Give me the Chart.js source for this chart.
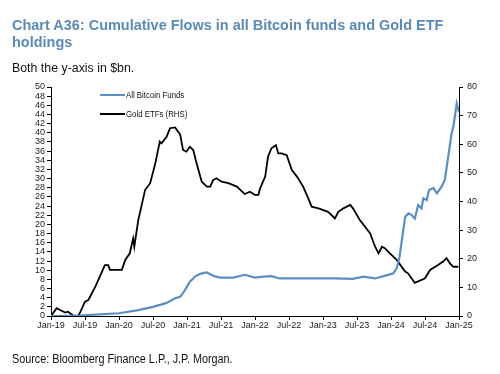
<!DOCTYPE html>
<html>
<head>
<meta charset="utf-8">
<script src="https://cdn.jsdelivr.net/npm/chart.js@4.4.1/dist/chart.umd.min.js"></script>
<style>
  html, body { margin: 0; padding: 0; background: #fff; }
  #wrap { position: relative; width: 500px; height: 374px; overflow: hidden; font-family: "Liberation Sans", Arial, sans-serif; }
  #chart-box { position: absolute; left: 0; top: 0; width: 500px; height: 374px; }
  .txt { position: absolute; white-space: nowrap; transform-origin: 0 0; }
  #title { left: 12px; top: 16px; font-size: 15px; line-height: 17px; font-weight: bold; color: #5b8ab5; transform: scaleX(0.965); }
  #subtitle { left: 12px; top: 61px; font-size: 12px; line-height: 14px; color: #111; transform: scaleX(1.03); }
  #source { left: 12px; top: 352px; font-size: 12px; line-height: 14px; color: #111; transform: scaleX(0.9); }
  .leg { position: absolute; left: 100px; height: 10px; font-size: 8.5px; line-height: 10px; color: #111; white-space: nowrap; }
  .leg i { display: inline-block; width: 25px; height: 2px; vertical-align: middle; margin-right: 1px; position: relative; top: -1px; }
  .leg span { display: inline-block; transform: scaleX(0.92); transform-origin: 0 50%; }
</style>
</head>
<body>
<div id="wrap">
  <div id="chart-box"><canvas id="flows-chart"></canvas></div>
  <div id="title" class="txt">Chart A36: Cumulative Flows in all Bitcoin funds and Gold ETF<br>holdings</div>
  <div id="subtitle" class="txt">Both the y-axis in $bn.</div>
  <div id="source" class="txt">Source: Bloomberg Finance L.P., J.P. Morgan.</div>
  <div class="leg" style="top:90px"><i style="background:#5b8fc2"></i><span>All Bitcoin Funds</span></div>
  <div class="leg" style="top:109px"><i style="background:#000"></i><span>Gold ETFs (RHS)</span></div>
</div>
<script>
// x positions are months since Jan-19
const xTickLabels = ['Jan-19', 'Jul-19', 'Jan-20', 'Jul-20', 'Jan-21', 'Jul-21', 'Jan-22', 'Jul-22', 'Jan-23', 'Jul-23', 'Jan-24', 'Jul-24', 'Jan-25'];

// All Bitcoin Funds, LHS, $bn
const btcMonths = [0, 5, 7.8, 12, 15.4, 18, 20.3, 22, 22.8, 23.3, 23.9, 24.5, 25.1, 25.4, 26.3, 27.5, 28.6, 29.8, 32.2, 34.2, 36, 37.5, 38.9, 40.4, 43.4, 47.6, 50, 53.3, 55.1, 57.2, 58.7, 59.8, 60.4, 61, 61.5, 62.1, 62.5, 63.1, 63.6, 64.2, 64.8, 65.4, 65.7, 66.3, 66.7, 67.5, 68.1, 68.9, 69.5, 70.1, 70.7, 71, 71.6, 71.9, 72];
const btcValues = [0, 0.1, 0.3, 0.6, 1.3, 2.0, 2.8, 3.9, 4.2, 5.0, 6.2, 7.5, 8.2, 8.6, 9.2, 9.5, 8.8, 8.4, 8.4, 9.0, 8.4, 8.6, 8.7, 8.2, 8.2, 8.2, 8.2, 8.1, 8.6, 8.2, 8.7, 9.1, 9.3, 10.4, 12.9, 18.1, 21.7, 22.4, 22.1, 21.3, 24.2, 23.5, 25.7, 25.3, 27.5, 27.9, 26.8, 28.2, 29.7, 34.8, 39.9, 41.3, 46.4, 45.0, 44.5];

// Gold ETFs, RHS, $bn
const goldMonths = [0, 1, 1.7, 2.5, 3, 3.9, 4.8, 5.2, 6, 6.6, 7.8, 8.6, 9.5, 10.1, 10.4, 12.5, 13.1, 13.9, 14.5, 14.7, 15.4, 16.6, 17.5, 18.4, 19.2, 19.5, 20.4, 21, 21.9, 22.8, 23.3, 23.9, 24.5, 25.1, 25.7, 26.6, 27.5, 28.1, 28.6, 29.2, 30.1, 31.3, 32.8, 34.2, 35.1, 36, 36.6, 36.9, 37.8, 38.3, 38.9, 39.7, 40.1, 40.7, 41.6, 42.5, 43.4, 44.5, 45.4, 46, 47.2, 48.9, 50.1, 50.7, 51.6, 52.8, 53.3, 54.5, 56.3, 57.2, 57.8, 58.4, 58.9, 59.8, 61, 62.5, 63, 64.2, 65.4, 66, 66.9, 68.3, 69.2, 69.8, 70.4, 71, 71.9];
const goldValues = [0, 2.7, 2.0, 1.2, 1.5, 0.2, 0, 1.5, 5.0, 5.6, 10.2, 13.7, 17.8, 17.8, 16.1, 16.1, 19.6, 21.9, 27.1, 24.2, 33.5, 44.0, 46.4, 53.3, 60.9, 60.3, 62.6, 65.6, 65.9, 63.4, 58.0, 57.4, 59.1, 58.0, 53.3, 46.9, 45.2, 45.2, 47.5, 48.1, 46.9, 46.4, 45.2, 42.6, 43.4, 42.3, 42.3, 44.6, 48.7, 55.7, 58.6, 59.7, 56.8, 56.8, 56.2, 51.0, 48.7, 45.2, 41.1, 38.2, 37.6, 36.4, 34.1, 36.4, 37.6, 38.8, 37.6, 33.5, 28.9, 24.2, 21.9, 24.2, 23.7, 21.9, 19.6, 15.5, 14.9, 11.6, 12.6, 13.2, 16.1, 17.8, 19.0, 20.2, 18.4, 17.2, 17.2];

const tickFont = { family: '"Liberation Sans", Arial, sans-serif', size: 9 };
const axisGrid = { display: true, drawOnChartArea: false, drawTicks: true, tickLength: 4, color: '#000', lineWidth: 1 };

new Chart(document.getElementById('flows-chart'), {
  type: 'line',
  data: {
    datasets: [
      { label: 'All Bitcoin Funds', data: btcMonths.map((m, i) => ({ x: m, y: btcValues[i] })), borderColor: '#5b8fc2', borderWidth: 2.2, pointRadius: 0, tension: 0, yAxisID: 'y' },
      { label: 'Gold ETFs (RHS)', data: goldMonths.map((m, i) => ({ x: m, y: goldValues[i] })), borderColor: '#000', borderWidth: 1.8, pointRadius: 0, tension: 0, yAxisID: 'y1' }
    ]
  },
  options: {
    responsive: true,
    maintainAspectRatio: false,
    animation: false,
    layout: { padding: { top: 87, bottom: 38, left: 0, right: 0 } },
    plugins: { legend: { display: false }, tooltip: { enabled: false } },
    scales: {
      x: {
        type: 'linear', min: 0, max: 72,
        afterFit: s => { s.height = 20; },
        ticks: { stepSize: 6, autoSkip: false, maxRotation: 0, color: '#222', font: tickFont, padding: 0, callback: v => xTickLabels[v / 6] },
        grid: axisGrid,
        border: { color: '#000' }
      },
      y: {
        position: 'left', min: 0, max: 50,
        afterFit: s => { s.width = 51; },
        ticks: { stepSize: 2, autoSkip: false, color: '#222', font: tickFont, padding: 2 },
        grid: axisGrid,
        border: { color: '#000' }
      },
      y1: {
        position: 'right', min: 0, max: 80,
        afterFit: s => { s.width = 41; },
        ticks: { stepSize: 10, autoSkip: false, color: '#222', font: tickFont, padding: 4 },
        grid: axisGrid,
        border: { color: '#000' }
      }
    }
  }
});
</script>
</body>
</html>
